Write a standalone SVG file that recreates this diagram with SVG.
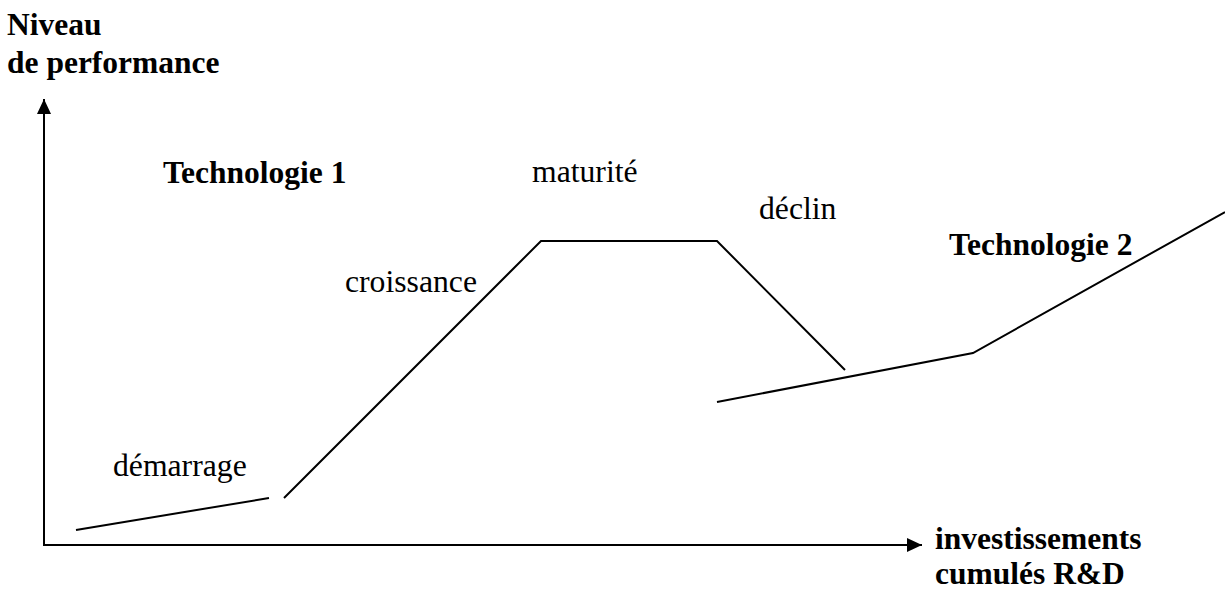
<svg xmlns="http://www.w3.org/2000/svg" width="1225" height="590" viewBox="0 0 1225 590">
<style>
.ln{fill:none;stroke:#000;stroke-width:2;stroke-linejoin:miter}
.b{font-family:"Liberation Serif","Times New Roman",serif;font-weight:bold;font-size:31.5px;fill:#000}
.r{font-family:"Liberation Serif","Times New Roman",serif;font-size:31.7px;fill:#000}
</style>
<defs>
<marker id="ah" markerWidth="15" markerHeight="14" refX="15" refY="7" orient="auto" markerUnits="userSpaceOnUse">
<polygon points="0,0 15,7 0,14" fill="#000"/>
</marker>
</defs>
<g id="axes">
<line class="ln" x1="44" y1="546" x2="44" y2="99" marker-end="url(#ah)"/>
<line class="ln" x1="43" y1="545" x2="922" y2="545" marker-end="url(#ah)"/>
</g>
<g id="connectors">
<polyline id="tech1-start" class="ln" points="76,530 269,498"/>
<polyline id="tech1-main" class="ln" points="284,498 541,241 717,241 845,370"/>
<polyline id="tech2" class="ln" points="717,402 973,353 1225,212"/>
</g>
<g id="label-y"><text class="b" x="7" y="35">Niveau</text><text class="b" x="7" y="73">de performance</text></g>
<g id="label-tech1"><text class="b" x="163" y="183">Technologie 1</text></g>
<g id="label-maturite"><text class="r" x="532" y="182">maturité</text></g>
<g id="label-declin"><text class="r" x="759" y="219">déclin</text></g>
<g id="label-tech2"><text class="b" x="949" y="255">Technologie 2</text></g>
<g id="label-croissance"><text class="r" x="345" y="292">croissance</text></g>
<g id="label-demarrage"><text class="r" x="113" y="476">démarrage</text></g>
<g id="label-x"><text class="b" x="935" y="549">investissements</text><text class="b" x="935" y="584">cumulés R&amp;D</text></g>
</svg>
